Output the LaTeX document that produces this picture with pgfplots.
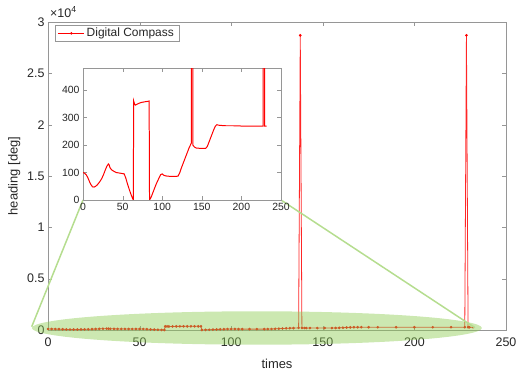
\documentclass[border=0pt]{standalone}
\usepackage{fontspec}
\setmainfont{Liberation Sans}
\usepackage{pgfplots}
\pgfplotsset{compat=1.18}
\usepackage{pgfplotstable}
\definecolor{ellg}{RGB}{141,203,83}
\definecolor{lineg}{RGB}{181,221,143}
\definecolor{axg}{RGB}{150,150,150}
\definecolor{txt}{RGB}{38,38,38}

\pgfplotstableread{
t h
0 100
2 97
4 92
6 82
8 68
10 56
12 48
14 47
16 50
18 55
20 62
22 70
24 80
26 93
28 108
30 122
32 131
33 128
34 118
36 110
38 106
40 103
42 100
44 99
46 98
48 97
50 96
52 95
54 80
56 60
58 42
60 25
62 10
63.5 0
64 360
65 350
66 345
68 348
70 351
72 353
74 355
76 356
78 357
80 358
82 359
83.5 360
84 0
86 10
88 25
90 40
92 55
94 68
96 80
98 92
100 95
102 90
104 88
106 87
110 86
114 86
118 86
120 87
122 98
124 115
126 130
128 145
130 160
132 175
134 190
136.8 207
137.7 28700
138.6 200
140 195
141 192
143 189
147 188
151 188
155 188
157 195
159 210
161 225
163 240
165 255
167 268
169 274
171 272
175 271
180 270
190 270
200 269
210 269
220 269
227.5 269
228.4 28700
229.3 269
230 269
232 269
}\compass

\begin{document}
\begin{tikzpicture}
\useasboundingbox (-48bp,-43bp) rectangle (468bp,330bp);
\begin{axis}[
  width=458bp, height=308bp, scale only axis,
  xmin=0, xmax=250, ymin=0, ymax=30000,
  xtick={0,50,...,250},
  ytick={0,5000,10000,15000,20000,25000,30000},
  yticklabels={0,0.5,1,1.5,2,2.5,3},
  scaled y ticks=false,
  tick align=inside,
  axis line style={axg},
  tick style={axg},
  /pgf/number format/assume math mode=true,
  ticklabel style={font=\fontsize{12.5}{14}\selectfont, text=txt},
  xticklabel style={yshift=-4bp},
  xlabel={times}, ylabel={heading [deg]},
  xlabel style={yshift=-6bp},
  label style={font=\fontsize{13}{15}\selectfont, text=txt},
  legend style={at={(0.015,0.99)}, anchor=north west, draw=axg,
    font=\fontsize{12}{14}\selectfont, inner ysep=1bp},
  legend cell align=left,
  legend image code/.code={\draw[color=red, mark repeat=2, mark phase=2, line width=0.7pt, mark=*, mark size=0.9pt, mark options={fill=red, draw=red}]
      plot coordinates {(0bp,0bp) (13bp,0bp) (26bp,0bp)};},
]
\addplot[red!85!white, line width=0.8pt, mark=*, mark size=0.9pt, mark options={red}] table[x=t,y=h]{\compass};
\addlegendentry{\textcolor{txt}{Digital Compass}}
\coordinate (ec) at (axis cs:114,195);
\coordinate (lt) at (axis cs:-8.9,320);
\coordinate (rt) at (axis cs:233,225);
\coordinate (xlab) at (axis cs:0,30000);
\end{axis}
\node[anchor=base west, inner sep=0pt, text=txt, font=\fontsize{12.5}{14}\selectfont] at ([xshift=2bp,yshift=5bp]xlab) {×10\textsuperscript{4}};
\fill[ellg, fill opacity=0.45] (ec) ellipse [x radius=225bp, y radius=16.7bp];
\draw[lineg, line width=1.5bp] (lt) -- (35bp,130bp);
\draw[lineg, line width=1.5bp] (233bp,130bp) -- (rt);
\begin{axis}[
  at={(35bp,130bp)}, anchor=south west,
  width=198bp, height=132bp, scale only axis,
  xmin=0, xmax=250, ymin=0, ymax=480,
  xtick={0,50,...,250},
  ytick={0,100,...,400},
  tick align=inside,
  axis line style={axg},
  tick style={axg},
  axis background/.style={fill=white},
  /pgf/number format/assume math mode=true,
  ticklabel style={font=\fontsize{10.5}{12}\selectfont, text=txt},
]
\addplot[red, line width=1pt, mark=none] table[x=t,y=h]{\compass};
\end{axis}
\end{tikzpicture}
\end{document}
